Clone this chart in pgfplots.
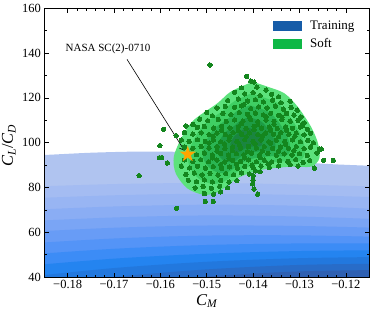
\documentclass[border=0pt]{standalone}
\usepackage{fontspec}
\setmainfont{Liberation Serif}
\usepackage{pgfplots}
\pgfplotsset{compat=1.18}
\usetikzlibrary{arrows.meta}

\definecolor{b1}{RGB}{176,196,240}
\definecolor{b2}{RGB}{164,188,242}
\definecolor{b3}{RGB}{152,181,243}
\definecolor{b4}{RGB}{138,173,244}
\definecolor{b5}{RGB}{122,165,245}
\definecolor{b6}{RGB}{104,156,246}
\definecolor{b7}{RGB}{84,148,247}
\definecolor{b8}{RGB}{60,140,246}
\definecolor{b9}{RGB}{36,132,240}
\definecolor{b10}{RGB}{34,120,222}
\definecolor{b11}{RGB}{40,108,200}
\definecolor{b12}{RGB}{46,96,178}
\definecolor{g1}{RGB}{92,226,124}
\definecolor{g2}{RGB}{63,207,99}
\definecolor{g3}{RGB}{42,181,83}
\definecolor{g4}{RGB}{29,156,69}
\definecolor{g5}{RGB}{26,133,64}
\definecolor{ptc}{RGB}{20,134,30}
\definecolor{trainc}{RGB}{22,92,168}
\definecolor{softc}{RGB}{14,184,70}
\definecolor{starc}{RGB}{255,165,0}

\pgfdeclareplotmark{fstar}{%
  \pgfpathmoveto{\pgfpointpolar{90}{\pgfplotmarksize}}%
  \pgfpathlineto{\pgfpointpolar{126}{0.382*\pgfplotmarksize}}%
  \pgfpathlineto{\pgfpointpolar{162}{\pgfplotmarksize}}%
  \pgfpathlineto{\pgfpointpolar{198}{0.382*\pgfplotmarksize}}%
  \pgfpathlineto{\pgfpointpolar{234}{\pgfplotmarksize}}%
  \pgfpathlineto{\pgfpointpolar{270}{0.382*\pgfplotmarksize}}%
  \pgfpathlineto{\pgfpointpolar{306}{\pgfplotmarksize}}%
  \pgfpathlineto{\pgfpointpolar{342}{0.382*\pgfplotmarksize}}%
  \pgfpathlineto{\pgfpointpolar{18}{\pgfplotmarksize}}%
  \pgfpathlineto{\pgfpointpolar{54}{0.382*\pgfplotmarksize}}%
  \pgfpathclose
  \pgfusepathqfill}

\begin{document}
\begin{tikzpicture}
\begin{axis}[
  scale only axis, width=324.5pt, height=268.7pt,
  xmin=-0.185, xmax=-0.115, ymin=40, ymax=160,
  xtick={-0.18,-0.17,-0.16,-0.15,-0.14,-0.13,-0.12},
  xticklabels={−0.18,−0.17,−0.16,−0.15,−0.14,−0.13,−0.12},
  ytick={40,60,80,100,120,140,160},
  minor x tick num=4, minor y tick num=1,
  tick align=inside,
  major tick length=4.5pt, minor tick length=2.5pt,
  every tick/.style={black, line width=0.6pt},
  axis line style={line width=0.8pt},
  axis on top,
  /pgf/number format/assume math mode=true,
  tick label style={font=\fontsize{12.5}{14}\selectfont},
  xlabel={{\itshape C}\textsubscript{\itshape M}},
  ylabel={{\itshape C}\textsubscript{\itshape L}/{\itshape C}\textsubscript{\itshape D}},
  label style={font=\fontsize{16.5}{18}\selectfont},
  xlabel style={at={(axis description cs:0.5,-0.09)}, anchor=center},
  ylabel style={at={(axis description cs:-0.11,0.49)}, anchor=center, rotate=0},
  clip=true,
  legend style={at={(axis description cs:0.962,0.962)}, anchor=north east, draw=none, fill=none,
    font=\fontsize{13}{15}\selectfont, row sep=3.5pt, inner sep=0pt,
    /tikz/every odd column/.append style={column sep=7pt}},
  legend cell align=left,
]
% ---- Training density (blue filled contours) ----
\addplot[draw=none, fill=b1, smooth, forget plot] coordinates {(-0.19,94.2) (-0.185,94.5) (-0.175,95.5) (-0.165,96.0) (-0.155,95.8) (-0.145,94.3) (-0.135,92.3) (-0.125,90.6) (-0.115,89.7) (-0.11,89.4)} \closedcycle;
\addplot[draw=none, fill=b2, smooth, forget plot] coordinates {(-0.19,80.2) (-0.17,81.5) (-0.15,82.0) (-0.13,81.3) (-0.11,80.2)} \closedcycle;
\addplot[draw=none, fill=b3, smooth, forget plot] coordinates {(-0.19,75.0) (-0.17,76.5) (-0.15,77.2) (-0.13,76.6) (-0.11,75.4)} \closedcycle;
\addplot[draw=none, fill=b4, smooth, forget plot] coordinates {(-0.19,69.8) (-0.17,71.5) (-0.15,72.3) (-0.13,71.8) (-0.11,70.0)} \closedcycle;
\addplot[draw=none, fill=b5, smooth, forget plot] coordinates {(-0.19,64.8) (-0.17,66.6) (-0.15,67.5) (-0.13,67.0) (-0.11,65.6)} \closedcycle;
\addplot[draw=none, fill=b6, smooth, forget plot] coordinates {(-0.19,60.0) (-0.17,62.0) (-0.15,63.0) (-0.13,62.8) (-0.11,61.8)} \closedcycle;
\addplot[draw=none, fill=b7, smooth, forget plot] coordinates {(-0.19,54.8) (-0.17,57.2) (-0.15,58.5) (-0.13,58.6) (-0.11,57.8)} \closedcycle;
\addplot[draw=none, fill=b8, smooth, forget plot] coordinates {(-0.19,49.8) (-0.17,52.6) (-0.15,54.3) (-0.13,55.0) (-0.11,55.0)} \closedcycle;
\addplot[draw=none, fill=b9, smooth, forget plot] coordinates {(-0.19,44.8) (-0.17,48.2) (-0.15,50.4) (-0.13,51.6) (-0.11,52.0)} \closedcycle;
\addplot[draw=none, fill=b10, smooth, forget plot] coordinates {(-0.19,39.8) (-0.17,44.0) (-0.15,46.8) (-0.13,48.4) (-0.11,49.0)} \closedcycle;
\addplot[draw=none, fill=b11, smooth, forget plot] coordinates {(-0.19,35.0) (-0.17,40.0) (-0.15,43.4) (-0.13,45.4) (-0.11,46.0)} \closedcycle;
\addplot[draw=none, fill=b12, smooth, forget plot] coordinates {(-0.19,30.0) (-0.17,36.0) (-0.15,40.2) (-0.13,42.5) (-0.11,43.2)} \closedcycle;
% ---- Soft density (green filled contours) ----
\addplot[draw=none, fill=g1, smooth, forget plot] coordinates {(-0.1401,127.2) (-0.1369,125.0) (-0.1333,122.1) (-0.1304,116.1) (-0.1275,107.1) (-0.1260,99.7) (-0.1257,93.0) (-0.1275,89.3) (-0.1318,89.3) (-0.1383,87.8) (-0.1434,84.1) (-0.1474,78.1) (-0.1506,76.7) (-0.1542,79.6) (-0.1567,86.3) (-0.1571,93.8) (-0.1553,102.7) (-0.1528,110.1) (-0.1477,117.6) (-0.1448,122.8) (-0.1401,127.2)};
\addplot[draw=none, fill=g2, smooth, forget plot] coordinates {(-0.1404,122.0) (-0.1378,120.2) (-0.1349,117.9) (-0.1326,113.1) (-0.1303,105.9) (-0.1291,100.0) (-0.1289,94.6) (-0.1303,91.6) (-0.1337,91.6) (-0.1389,90.4) (-0.1430,87.5) (-0.1462,82.7) (-0.1488,81.6) (-0.1517,83.9) (-0.1537,89.2) (-0.1540,95.2) (-0.1525,102.4) (-0.1505,108.3) (-0.1465,114.3) (-0.1441,118.4) (-0.1404,122.0)};
\addplot[draw=none, fill=g3, smooth, forget plot] coordinates {(-0.1407,116.7) (-0.1387,115.4) (-0.1366,113.7) (-0.1348,110.1) (-0.1331,104.7) (-0.1322,100.2) (-0.1320,96.2) (-0.1331,94.0) (-0.1357,94.0) (-0.1396,93.1) (-0.1426,90.9) (-0.1450,87.3) (-0.1470,86.4) (-0.1491,88.2) (-0.1506,92.2) (-0.1509,96.7) (-0.1498,102.0) (-0.1483,106.5) (-0.1452,111.0) (-0.1435,114.1) (-0.1407,116.7)};
\addplot[draw=none, fill=g4, smooth, forget plot] coordinates {(-0.1409,111.5) (-0.1397,110.6) (-0.1382,109.4) (-0.1371,107.0) (-0.1359,103.4) (-0.1353,100.5) (-0.1352,97.8) (-0.1359,96.3) (-0.1376,96.3) (-0.1402,95.7) (-0.1423,94.2) (-0.1439,91.8) (-0.1451,91.3) (-0.1466,92.4) (-0.1476,95.1) (-0.1477,98.1) (-0.1470,101.7) (-0.1460,104.6) (-0.1440,107.6) (-0.1428,109.7) (-0.1409,111.5)};
\addplot[draw=none, fill=g5, smooth, forget plot] coordinates {(-0.1412,106.8) (-0.1405,106.3) (-0.1397,105.6) (-0.1391,104.3) (-0.1384,102.3) (-0.1381,100.7) (-0.1380,99.2) (-0.1384,98.4) (-0.1394,98.4) (-0.1408,98.1) (-0.1419,97.3) (-0.1428,96.0) (-0.1435,95.7) (-0.1443,96.3) (-0.1448,97.8) (-0.1449,99.4) (-0.1445,101.4) (-0.1440,103.0) (-0.1429,104.7) (-0.1422,105.8) (-0.1412,106.8)};
% ---- Soft samples ----
\addplot[only marks, mark=*, mark size=2.2pt, color=ptc, mark options={fill=ptc, draw=ptc, line width=0pt}, forget plot] coordinates {
(-0.1405,127.5) (-0.1398,127.0)
(-0.1425,124.5) (-0.1392,124.8) (-0.1372,123.5)
(-0.1440,122.5) (-0.1418,121.8) (-0.1400,122.3) (-0.1385,121.0) (-0.1360,121.6) (-0.1345,120.5)
(-0.1455,118.8) (-0.1432,119.5) (-0.1412,118.6) (-0.1395,119.2) (-0.1378,118.2) (-0.1358,119.0) (-0.1340,117.8) (-0.1320,118.5) (-0.1420,117.0)
(-0.1478,115.5) (-0.1460,116.2) (-0.1440,115.8) (-0.1425,116.4) (-0.1405,115.2) (-0.1388,116.0) (-0.1370,115.5) (-0.1352,116.3) (-0.1335,115.0) (-0.1318,115.8) (-0.1305,114.5)
(-0.1500,113.5) (-0.1488,112.0) (-0.1465,113.0) (-0.1448,112.5) (-0.1430,113.4) (-0.1412,112.6) (-0.1395,113.2) (-0.1378,112.4) (-0.1362,113.1) (-0.1345,112.2) (-0.1328,113.0) (-0.1312,112.3) (-0.1297,111.5)
(-0.1515,110.5) (-0.1498,109.8) (-0.1475,110.4) (-0.1458,109.5) (-0.1440,110.2) (-0.1422,109.6) (-0.1405,110.3) (-0.1390,109.4) (-0.1372,110.1) (-0.1355,109.5) (-0.1338,110.3) (-0.1320,109.6) (-0.1303,110.0) (-0.1290,108.8) (-0.1530,108.2)
(-0.1545,107.5) (-0.1520,106.8) (-0.1505,107.2) (-0.1485,106.5) (-0.1468,107.3) (-0.1450,106.6) (-0.1432,107.1) (-0.1415,106.4) (-0.1398,107.2) (-0.1382,106.5) (-0.1365,107.0) (-0.1348,106.3) (-0.1330,107.1) (-0.1315,106.4) (-0.1298,107.0) (-0.1283,106.0) (-0.1293,108.5)
(-0.1548,104.5) (-0.1530,103.8) (-0.1512,104.4) (-0.1495,103.6) (-0.1478,104.3) (-0.1460,103.7) (-0.1443,104.5) (-0.1425,103.8) (-0.1408,104.4) (-0.1390,103.6) (-0.1373,104.3) (-0.1356,103.7) (-0.1340,104.5) (-0.1323,103.8) (-0.1307,104.3) (-0.1290,103.5) (-0.1276,104.2)
(-0.1555,101.2) (-0.1538,100.6) (-0.1520,101.3) (-0.1503,100.5) (-0.1486,101.2) (-0.1470,100.4) (-0.1452,101.1) (-0.1435,100.5) (-0.1418,101.3) (-0.1400,100.6) (-0.1383,101.2) (-0.1366,100.4) (-0.1350,101.1) (-0.1332,100.5) (-0.1315,101.2) (-0.1298,100.4) (-0.1282,101.0) (-0.1270,100.0)
(-0.1548,98.0) (-0.1530,97.5) (-0.1512,98.3) (-0.1495,97.6) (-0.1478,98.2) (-0.1461,97.4) (-0.1444,98.1) (-0.1427,97.5) (-0.1410,98.3) (-0.1393,97.6) (-0.1376,98.2) (-0.1358,97.4) (-0.1341,98.0) (-0.1324,97.5) (-0.1307,98.2) (-0.1290,97.3) (-0.1276,98.0)
(-0.1540,95.2) (-0.1522,94.6) (-0.1505,95.3) (-0.1488,94.5) (-0.1470,95.2) (-0.1453,94.4) (-0.1436,95.1) (-0.1420,94.6) (-0.1403,95.3) (-0.1386,94.5) (-0.1368,95.2) (-0.1350,94.4) (-0.1333,95.0) (-0.1316,94.5) (-0.1300,95.1) (-0.1283,94.3) (-0.1262,95.4)
(-0.1548,92.3) (-0.1530,91.6) (-0.1513,92.4) (-0.1496,91.5) (-0.1478,92.2) (-0.1461,91.4) (-0.1444,92.1) (-0.1427,91.6) (-0.1410,92.3) (-0.1393,91.5) (-0.1376,92.2) (-0.1360,91.4) (-0.1343,92.0) (-0.1325,91.7) (-0.1308,92.4) (-0.1292,91.2) (-0.1278,92.0)
(-0.1555,89.5) (-0.1537,88.7) (-0.1520,89.4) (-0.1503,88.6) (-0.1486,89.3) (-0.1468,88.5) (-0.1451,89.2) (-0.1434,88.6) (-0.1418,89.4) (-0.1400,88.8) (-0.1383,89.5) (-0.1365,88.9) (-0.1345,89.6) (-0.1320,90.2) (-0.1303,89.5)
(-0.1545,85.8) (-0.1527,86.4) (-0.1510,85.6) (-0.1493,86.3) (-0.1476,85.5) (-0.1459,86.2) (-0.1442,85.7) (-0.1425,86.5) (-0.1408,86.0) (-0.1385,87.0)
(-0.1540,83.2) (-0.1522,82.6) (-0.1505,83.4) (-0.1488,82.5) (-0.1470,83.1) (-0.1452,82.4) (-0.1435,83.0)
(-0.1525,79.8) (-0.1508,80.4) (-0.1490,79.6) (-0.1472,80.5) (-0.1455,79.9)
(-0.1505,77.3) (-0.1485,77.0) (-0.1470,78.0)
(-0.1495,99.8) (-0.1478,96.2) (-0.1462,99.5) (-0.1445,96.5) (-0.1430,99.2) (-0.1412,96.0) (-0.1396,99.4) (-0.1380,96.3) (-0.1362,99.7) (-0.1345,96.2) (-0.1330,99.3) (-0.1312,96.4)
(-0.1488,93.2) (-0.1470,90.2) (-0.1452,93.0) (-0.1436,90.3) (-0.1418,93.2) (-0.1402,90.0) (-0.1385,93.3) (-0.1368,90.4)
(-0.1486,102.8) (-0.1468,105.6) (-0.1450,102.7) (-0.1432,105.4) (-0.1415,102.6) (-0.1398,105.8) (-0.1380,102.9) (-0.1362,105.5) (-0.1345,102.7) (-0.1328,105.6) (-0.1310,102.9)
(-0.1425,108.5) (-0.1408,111.5) (-0.1390,108.2) (-0.1372,111.6) (-0.1355,108.3) (-0.1338,111.4)
(-0.1493,134.7) (-0.1414,129.6) (-0.1646,85.3) (-0.1565,70.7) (-0.1601,98.7) (-0.1602,93.3) (-0.1597,93.3)
(-0.1593,106.0) (-0.1585,90.9) (-0.1566,103.1) (-0.1545,107.5) (-0.1503,73.7) (-0.1486,73.7)
(-0.1401,81.6) (-0.1398,79.3) (-0.1390,77.0) (-0.1400,85.3) (-0.1400,83.3) (-0.1395,87.4)
(-0.1268,88.6) (-0.1248,92.1) (-0.1227,92.1) (-0.1257,97.2) (-0.1253,97.2) (-0.1293,107.5)
};
% ---- NASA SC(2)-0710 ----
\addplot[only marks, mark=fstar, mark size=8.5pt, color=starc, forget plot] coordinates {(-0.1541,94.8)};
\draw[line width=0.6pt, -{Straight Barb[length=4.5pt,width=6pt,line width=0.6pt]}] (axis cs:-0.1672,137.2) -- (axis cs:-0.1548,96.4);
\node[font=\fontsize{11}{12}\selectfont] at (axis cs:-0.1713,141.8) {NASA SC(2)-0710};
% ---- legend ----
\addlegendimage{legend image code/.code={\fill[trainc] (0pt,-4.6pt) rectangle (28pt,4.6pt);}}
\addlegendentry{Training}
\addlegendimage{legend image code/.code={\fill[softc] (0pt,-4.6pt) rectangle (28pt,4.6pt);}}
\addlegendentry{Soft}
\end{axis}
\path (current axis.south west) ++(-44.5pt,-37pt) coordinate (bbA);
\path (current axis.north east) ++(4pt,8.3pt) coordinate (bbB);
\pgfresetboundingbox
\path[use as bounding box] (bbA) rectangle (bbB);
\end{tikzpicture}
\end{document}
